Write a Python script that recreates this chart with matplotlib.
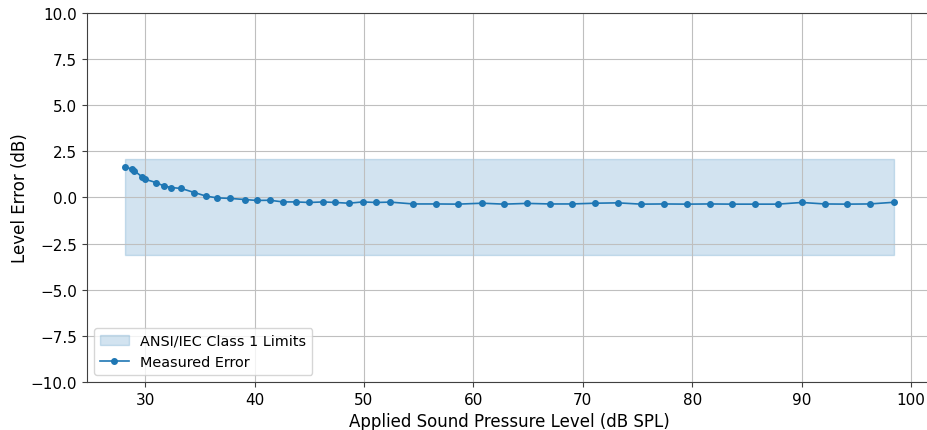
import numpy as np
import matplotlib
matplotlib.use("Agg")
import matplotlib.pyplot as plt

# applied SPL (dB) and measured level error (dB)
spl = [28.2, 28.8, 29.0, 29.7, 30.0, 31.0, 31.7, 32.4, 33.3, 34.5, 35.6, 36.6,
       37.8, 39.1, 40.2, 41.4, 42.6, 43.8, 45.0, 46.3, 47.4, 48.6, 49.9, 51.1,
       52.4, 54.5, 56.6, 58.6, 60.8, 62.8, 64.9, 67.0, 69.0, 71.1, 73.2, 75.3,
       77.4, 79.5, 81.6, 83.6, 85.7, 87.8, 90.0, 92.1, 94.1, 96.2, 98.4]
err = [1.64, 1.55, 1.46, 1.13, 0.99, 0.81, 0.63, 0.54, 0.49, 0.27, 0.07, -0.02,
       -0.05, -0.11, -0.16, -0.15, -0.24, -0.24, -0.27, -0.24, -0.27, -0.31, -0.24, -0.27,
       -0.25, -0.35, -0.35, -0.36, -0.31, -0.36, -0.32, -0.35, -0.35, -0.31, -0.29, -0.36,
       -0.35, -0.36, -0.35, -0.36, -0.36, -0.36, -0.27, -0.35, -0.36, -0.35, -0.26]
lim_lo, lim_hi = -3.1, 2.1

fig = plt.figure(figsize=(9.28, 4.31), dpi=100)
# axes run slightly past the right edge of the picture, as in the source crop
ax = fig.add_axes([0.0938, 0.1114, 0.9105, 0.8561])
ax.fill_between([spl[0], spl[-1]], lim_lo, lim_hi, color="C0", alpha=0.2,
                label="ANSI/IEC Class 1 Limits")
ax.plot(spl, err, "o-", color="C0", ms=4, lw=1.2, label="Measured Error")
ax.set_xlim(24.7, 101.9)
ax.set_ylim(-10, 10)
ax.set_xticks([30, 40, 50, 60, 70, 80, 90, 100])
ax.set_xlabel("Applied Sound Pressure Level (dB SPL)", fontsize=12)
ax.set_ylabel("Level Error (dB)", fontsize=12, labelpad=1)
ax.tick_params(labelsize=11, color="0.25")
for s in ax.spines.values():
    s.set_edgecolor("0.25")
ax.spines["right"].set_visible(False)
ax.grid(True, color="0.75")
ax.legend(loc="lower left", fontsize=10.4)
fig.savefig("out.png", dpi=100)
